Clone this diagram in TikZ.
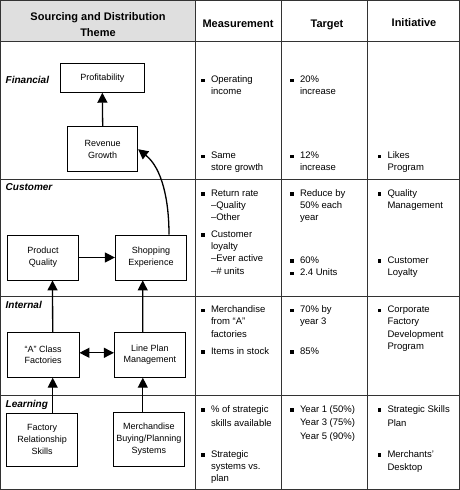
\documentclass[tikz,border=0pt]{standalone}
\usepackage{fontspec}
\setmainfont{Liberation Sans}
\usetikzlibrary{arrows.meta}
\newcommand{\bulsq}{\makebox[9.8pt][l]{\rule[0.4pt]{3.3pt}{3.3pt}}}
\newcommand{\bulind}{\hspace*{9.8pt}}
\begin{document}
\begin{tikzpicture}[x=1pt,y=-1pt,
  gridline/.style={draw=black!80, line width=0.9pt},
  box/.style={draw, line width=0.8pt, align=center, font=\fontsize{9}{11.7}\selectfont, inner sep=0pt},
  hdr/.style={font=\fontsize{11}{16.5}\selectfont\bfseries, anchor=base, align=center, inner sep=0pt},
  rowlab/.style={font=\fontsize{10}{12}\selectfont\bfseries\itshape, anchor=base west, inner sep=0pt},
  cell/.style={font=\fontsize{9.5}{12.4}\selectfont, anchor=base west, align=left, inner sep=0pt},
  arr/.style={line width=1.3pt, -{Triangle[length=10pt,width=10pt]}},
  darr/.style={line width=1.3pt, {Triangle[length=10pt,width=10pt]}-{Triangle[length=10pt,width=10pt]}},
]
\useasboundingbox (0,0) rectangle (460,490);
% table
\fill[gray!25] (0.5,0.5) rectangle (195,41.5);
\draw[gridline] (0.5,0.5) rectangle (459.3,489.3);
\draw[gridline] (0.5,41.5) -- (459.3,41.5);
\draw[gridline] (0.5,179.5) -- (459.3,179.5);
\draw[gridline] (0.5,296.5) -- (459.3,296.5);
\draw[gridline] (0.5,395.5) -- (459.3,395.5);
\draw[gridline] (195,0.5) -- (195,489.3);
\draw[gridline] (281,0.5) -- (281,489.3);
\draw[gridline] (367,0.5) -- (367,489.3);
% headers (base anchor = baseline of last line)
\node[hdr] (h1) at (98,36.5) {Sourcing and Distribution\\Theme};
\node[hdr] (h2) at (238,27) {Measurement};
\node[hdr] (h3) at (327,27) {Target};
\node[hdr] (h4) at (414,26.5) {Initiative};
% row labels
\node[rowlab] (lf) at (5.5,83) {Financial};
\node[rowlab] (lc) at (5.5,190.8) {Customer};
\node[rowlab] (li) at (5.5,308.5) {Internal};
\node[rowlab] (ll) at (5.5,407.5) {Learning};
% boxes
\node[box, minimum width=84pt, minimum height=29pt] (prof) at (102.3,77.8) {Profitability};
\node[box, minimum width=70pt, minimum height=45pt] (rev) at (102.7,149.2) {Revenue\\Growth};
\node[box, minimum width=71.4pt, minimum height=45pt] (pq) at (43,257.5) {Product\\Quality};
\node[box, minimum width=71.4pt, minimum height=45pt] (se) at (151,257.5) {Shopping\\Experience};
\node[box, minimum width=71.7pt, minimum height=45pt] (af) at (43.2,354.8) {``A'' Class\\Factories};
\node[box, minimum width=71pt, minimum height=45pt] (lpm) at (149.8,354.8) {Line Plan\\Management};
\node[box, minimum width=71pt, minimum height=53pt] (frs) at (42.2,439.5) {Factory\\Relationship\\Skills};
\node[box, minimum width=71pt, minimum height=53.7pt] (mbps) at (148.8,439.2) {Merchandise\\Buying/Planning\\Systems};
% arrows
\draw[arr] (rev.north) -- (prof.south);
\draw[arr] (pq.east) -- (se.west);
\draw[arr] ([xshift=18pt]se.north) .. controls (169,200) and (162,168) .. (rev.east);
\draw[arr] ([xshift=9.5pt]af.north) -- ([xshift=9.5pt]pq.south);
\draw[arr] ([xshift=-7pt]lpm.north) -- ([xshift=-8.3pt]se.south);
\draw[darr] ([yshift=2pt]af.east) -- ([yshift=2pt]lpm.west);
\draw[arr] ([xshift=10.5pt]frs.north) -- ([xshift=9.5pt]af.south);
\draw[arr] ([xshift=-6pt]mbps.north) -- ([xshift=-7pt]lpm.south);
% measurement
\node[cell] (m1) at (201,94.9) {\bulsq Operating\\\bulind income};
\node[cell] (m2) at (201,170.9) {\bulsq Same\\\bulind store growth};
\node[cell] (m3) at (201,220.8) {\bulsq Return rate\\\bulind --Quality\\\bulind --Other};
\node[cell] (m4) at (201,274.2) {\bulsq Customer\\\bulind loyalty\\\bulind --Ever active\\\bulind --\# units};
\node[cell] (m5) at (201,337.3) {\bulsq Merchandise\\\bulind from “A”\\\bulind factories};
\node[cell] (m6) at (201,354) {\bulsq Items in stock};
\node[cell] (m7) at (201,426) {\bulsq \% of strategic\\[1.6pt]\bulind skills available};
\node[cell] (m8) at (201,481.8) {\bulsq Strategic\\\bulind systems vs.\\\bulind plan};
% target
\node[cell] (t1) at (290,94.9) {\bulsq 20\%\\\bulind increase};
\node[cell] (t2) at (290,170.9) {\bulsq 12\%\\\bulind increase};
\node[cell] (t3) at (290,220.8) {\bulsq Reduce by\\\bulind 50\% each\\\bulind year};
\node[cell] (t4) at (290,275.4) {\bulsq 60\%\\\bulsq 2.4 Units};
\node[cell] (t5) at (290,324.9) {\bulsq 70\% by\\\bulind year 3};
\node[cell] (t6) at (290,354) {\bulsq 85\%};
\node[cell] (t7) at (290,439.4) {\bulsq Year 1 (50\%)\\[1.3pt]\bulind Year 3 (75\%)\\[1.3pt]\bulind Year 5 (90\%)};
% initiative
\node[cell] (i1) at (377.5,170.9) {\bulsq Likes\\\bulind Program};
\node[cell] (i2) at (377.5,208.4) {\bulsq Quality\\\bulind Management};
\node[cell] (i3) at (377.5,275.4) {\bulsq Customer\\\bulind Loyalty};
\node[cell] (i4) at (377.5,349.7) {\bulsq Corporate\\\bulind Factory\\\bulind Development\\\bulind Program};
\node[cell] (i5) at (377.5,426) {\bulsq Strategic Skills\\[1.6pt]\bulind Plan};
\node[cell] (i6) at (377.5,470.4) {\bulsq Merchants’\\[1pt]\bulind Desktop};
\end{tikzpicture}
\end{document}
